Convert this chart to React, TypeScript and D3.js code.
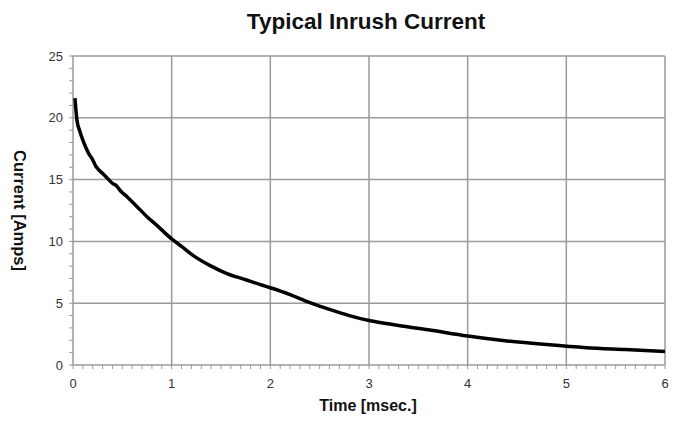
import React from 'react';
import * as d3 from 'd3';

// time in msec, current in amps
const timeMs = [0.02, 0.04, 0.07, 0.1, 0.13, 0.16, 0.2, 0.23, 0.26, 0.3, 0.35, 0.4, 0.44, 0.48, 0.55, 0.65, 0.75, 0.85, 1.0, 1.1, 1.22, 1.4, 1.56, 1.75, 1.9, 2.0, 2.2, 2.4, 2.6, 2.8, 3.0, 3.3, 3.6, 4.0, 4.4, 4.8, 5.2, 5.6, 6.0];
const currentAmps = [21.6, 19.8, 18.9, 18.2, 17.6, 17.1, 16.6, 16.1, 15.8, 15.5, 15.1, 14.7, 14.5, 14.1, 13.6, 12.8, 12.0, 11.3, 10.2, 9.6, 8.85, 8.0, 7.4, 6.9, 6.5, 6.25, 5.7, 5.05, 4.5, 4.0, 3.6, 3.2, 2.85, 2.35, 1.95, 1.65, 1.4, 1.25, 1.1];
const xTicks = [0, 1, 2, 3, 4, 5, 6];
const yTicks = [0, 5, 10, 15, 20, 25];

const W = 678;
const H = 426;
const left = 73;
const right = 665;
const top = 56;
const bottom = 365;

export default function App() {
  const x = d3.scaleLinear().domain([0, 6]).range([left, right]);
  const y = d3.scaleLinear().domain([0, 25]).range([bottom, top]);
  const pts = timeMs.map((t, i) => [t, currentAmps[i]] as [number, number]);
  const line = d3.line<[number, number]>()
    .x(d => x(d[0]))
    .y(d => y(d[1]))
    .curve(d3.curveMonotoneX);

  const xMinor = d3.range(0, 61).map(i => i / 10);
  const yMinor = d3.range(0, 26);
  const grid = '#9a9a9a';
  const font = '"Liberation Sans", Arial, sans-serif';

  return (
    <svg width={W} height={H} style={{ position: 'absolute', left: 0, top: 0, background: '#fff' }}>
      <text x={366} y={29} textAnchor="middle" fontFamily={font} fontWeight="bold" fontSize={22.5} fill="#111">
        Typical Inrush Current
      </text>

      {/* grid */}
      {yTicks.map(v => (
        <line key={'gy' + v} x1={left} x2={right} y1={y(v)} y2={y(v)} stroke={grid} strokeWidth={1.5} />
      ))}
      {xTicks.map(v => (
        <line key={'gx' + v} x1={x(v)} x2={x(v)} y1={top} y2={bottom} stroke={grid} strokeWidth={1.5} />
      ))}

      {/* minor ticks */}
      {yMinor.map(v => (
        <line key={'my' + v} x1={left - 4} x2={left} y1={y(v)} y2={y(v)} stroke={grid} strokeWidth={1} />
      ))}
      {xMinor.map(v => (
        <line key={'mx' + v} x1={x(v)} x2={x(v)} y1={bottom} y2={bottom + 4} stroke={grid} strokeWidth={1} />
      ))}

      {/* tick labels */}
      {yTicks.map(v => (
        <text key={'ly' + v} x={left - 10} y={y(v) + 4.5} textAnchor="end" fontFamily={font} fontSize={13} fill="#333">
          {v}
        </text>
      ))}
      {xTicks.map(v => (
        <text key={'lx' + v} x={x(v)} y={bottom + 23} textAnchor="middle" fontFamily={font} fontSize={13} fill="#333">
          {v}
        </text>
      ))}

      <path d={line(pts) ?? ''} fill="none" stroke="#000" strokeWidth={3.5} strokeLinejoin="round" />

      <text x={368} y={411} textAnchor="middle" fontFamily={font} fontWeight="bold" fontSize={16} fill="#111">
        Time [msec.]
      </text>
      <text transform={`translate(14,${(top + bottom) / 2}) rotate(90)`} textAnchor="middle" fontFamily={font} fontWeight="bold" fontSize={16.5} fill="#111">
        Current [Amps]
      </text>
    </svg>
  );
}
